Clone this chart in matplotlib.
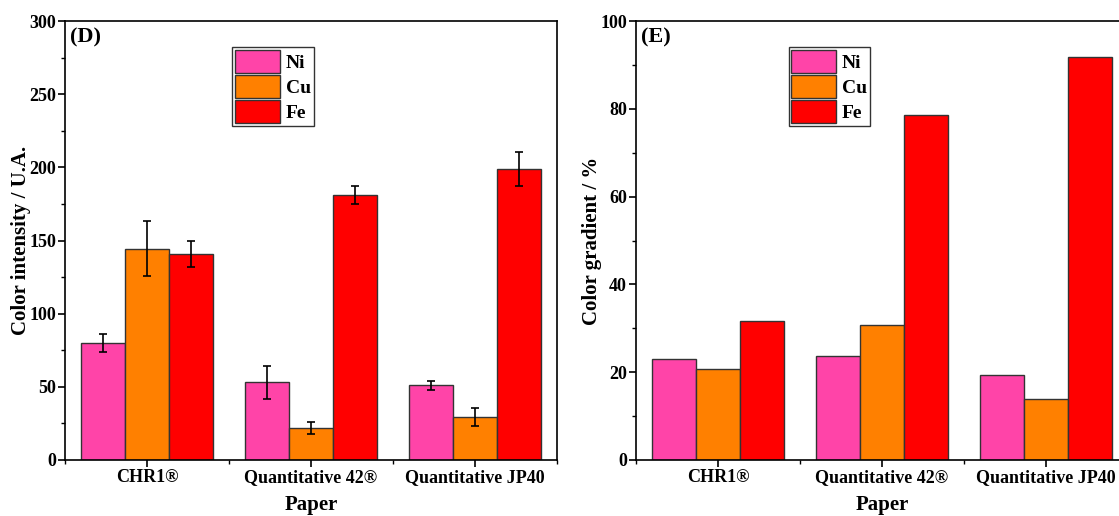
import matplotlib.pyplot as plt
import numpy as np
from matplotlib.ticker import MultipleLocator

plt.rcParams["font.family"] = ["Liberation Serif", "DejaVu Serif"]
plt.rcParams["font.weight"] = "bold"

papers = ["CHR1®", "Quantitative 42®", "Quantitative JP40"]
metals = ["Ni", "Cu", "Fe"]
colors = ["#FF44A8", "#FF8000", "#FF0000"]

# (D) colour intensity, U.A.
intensity = {
    "Ni": [80.0, 53.0, 51.0],
    "Cu": [144.5, 22.0, 29.5],
    "Fe": [141.0, 181.0, 199.0],
}
intensity_err = {
    "Ni": [6.0, 11.5, 3.0],
    "Cu": [18.5, 4.0, 6.0],
    "Fe": [9.0, 6.0, 11.5],
}

# (E) colour gradient, %
gradient = {
    "Ni": [23.1, 23.6, 19.3],
    "Cu": [20.7, 30.8, 14.0],
    "Fe": [31.6, 78.6, 91.8],
}

W, H = 1119, 516
fig = plt.figure(figsize=(W / 100, H / 100), dpi=100)
ax1 = fig.add_axes([65 / W, 1 - 460 / H, 492 / W, 439 / H])
ax2 = fig.add_axes([636 / W, 1 - 460 / H, 492 / W, 439 / H])

x = np.arange(len(papers))
bw = 0.8 / 3


def draw(ax, data, err, ylim, major, minor, ylabel, tag, leg_x):
    for i, (m, c) in enumerate(zip(metals, colors)):
        ax.bar(x + (i - 1) * bw, data[m], bw, color=c, edgecolor="#333333",
               linewidth=1, label=m, zorder=2)
        if err is not None:
            ax.errorbar(x + (i - 1) * bw, data[m], yerr=err[m], fmt="none",
                        ecolor="black", elinewidth=1.2, capsize=3,
                        capthick=1.2, zorder=3)
    ax.set_xlim(-0.5, 2.5)
    ax.set_ylim(*ylim)
    ax.set_xticks(x)
    ax.set_xticklabels(papers)
    ax.xaxis.set_minor_locator(MultipleLocator(0.5))
    ax.yaxis.set_major_locator(MultipleLocator(major))
    ax.yaxis.set_minor_locator(MultipleLocator(minor))
    ax.tick_params(axis="both", which="major", labelsize=13, length=5,
                   width=1.2, direction="out", top=False, right=False, pad=1.5)
    ax.tick_params(axis="both", which="minor", length=3, width=1,
                   direction="out", top=False, right=False)
    for lab in ax.get_xticklabels() + ax.get_yticklabels():
        lab.set_fontweight("bold")
    for s in ax.spines.values():
        s.set_linewidth(1.2)
    ax.set_xlabel("Paper", fontsize=15, fontweight="bold")
    ax.set_ylabel(ylabel, fontsize=15, fontweight="bold")
    ax.xaxis.set_label_coords(0.5, -0.08)
    ax.yaxis.set_label_coords(-0.07, 0.5)
    ax.text(0.01, 0.985, tag, transform=ax.transAxes, fontsize=16,
            fontweight="bold", va="top", ha="left")
    leg = ax.legend(loc="upper left", bbox_to_anchor=(leg_x, 0.94),
                    fancybox=False, framealpha=1, edgecolor="#333333",
                    handlelength=2.3, handleheight=1.45, labelspacing=0.08,
                    handletextpad=0.3, borderpad=0.15, borderaxespad=0,
                    prop={"size": 14, "weight": "bold"})
    leg.get_frame().set_linewidth(1)


draw(ax1, intensity, intensity_err, (0, 300), 50, 25,
     "Color intensity / U.A.", "(D)", 0.34)
draw(ax2, gradient, None, (0, 100), 20, 10,
     "Color gradient / %", "(E)", 0.31)

fig.savefig("out.png", dpi=100)
